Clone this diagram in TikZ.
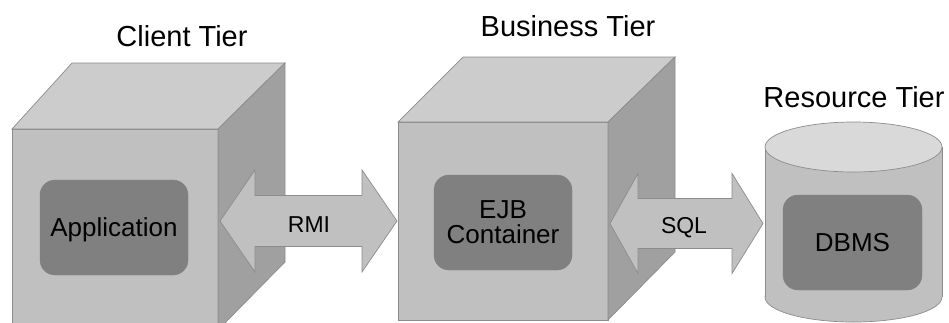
\documentclass[tikz,border=0pt]{standalone}
\usepackage{fontspec}
\setmainfont{Liberation Sans}
\definecolor{frontgray}{HTML}{C0C0C0}
\definecolor{topgray}{HTML}{CCCCCC}
\definecolor{sidegray}{HTML}{A0A0A0}
\definecolor{innergray}{HTML}{808080}
\definecolor{cyltop}{HTML}{D9D9D9}
\definecolor{edgegray}{HTML}{8C8C8C}
\begin{document}
\begin{tikzpicture}[x=1pt,y=-1pt,
  edgeline/.style={draw=edgegray,line width=0.7pt},
  frontface/.style={fill=frontgray,edgeline},
  topface/.style={fill=topgray,edgeline},
  sideface/.style={fill=sidegray,edgeline},
  innerbox/.style={fill=innergray,draw=innergray,rounded corners=15pt,inner sep=0pt,
    minimum height=95pt,align=center,font=\fontsize{26}{25}\selectfont},
  tiertitle/.style={anchor=base,inner sep=0pt,font=\fontsize{29}{34}\selectfont},
  blockarrow/.style={fill=frontgray,edgeline,line join=miter},
  arrowlabel/.style={inner sep=0pt,anchor=base,font=\fontsize{23}{26}\selectfont}]
\useasboundingbox (0,0) rectangle (949,322);
\clip (0,0) rectangle (949,322);

% Client tier cube
\path[frontface] (12,129) rectangle (218,335);
\path[topface] (12,129) -- (72,63) -- (285,63) -- (218,129) -- cycle;
\path[sideface] (218,129) -- (285,63) -- (285,262) -- (218,330) -- cycle;
\node[innerbox,minimum width=148pt] (app) at (114,227.5) {};
\node[arrowlabel,font=\fontsize{26}{25}\selectfont] (applabel) at (114,236) {Application};
\node[tiertitle] (client) at (182,46) {Client Tier};

% Business tier cube
\path[frontface] (398,122) rectangle (608,320);
\path[topface] (398,122) -- (463,57) -- (675,57) -- (608,122) -- cycle;
\path[sideface] (608,122) -- (675,57) -- (675,252) -- (608,320) -- cycle;
\node[innerbox,minimum width=138pt] (ejb) at (503,222.5) {EJB\\Container};
\node[tiertitle] (business) at (568,36) {Business Tier};

% Resource tier cylinder
\path[fill=frontgray,edgeline] (853.5,297) ellipse [x radius=88.5pt,y radius=25pt];
\path[fill=frontgray] (765,147) rectangle (942,297);
\draw[edgeline] (765,147) -- (765,297);
\draw[edgeline] (942,147) -- (942,297);
\path[fill=cyltop,edgeline] (853.5,147) ellipse [x radius=88.5pt,y radius=25pt];
\node[innerbox,minimum width=139pt] (dbms) at (852.5,242.5) {DBMS};
\node[tiertitle] (resource) at (854,107) {Resource Tier};

% RMI arrow
\path[blockarrow] (220,221) -- (255,170) -- (255,195.5) -- (362,195.5) -- (362,170)
  -- (397,221) -- (362,272) -- (362,246.5) -- (255,246.5) -- (255,272) -- cycle;
\node[arrowlabel] (rmi) at (309,232) {RMI};

% SQL arrow
\path[blockarrow] (610,223.5) -- (638,173.5) -- (638,198.5) -- (732,198.5) -- (732,173.5)
  -- (763,223.5) -- (732,273.5) -- (732,248.5) -- (638,248.5) -- (638,273.5) -- cycle;
\node[arrowlabel] (sql) at (684,233) {SQL};
\end{tikzpicture}
\end{document}
